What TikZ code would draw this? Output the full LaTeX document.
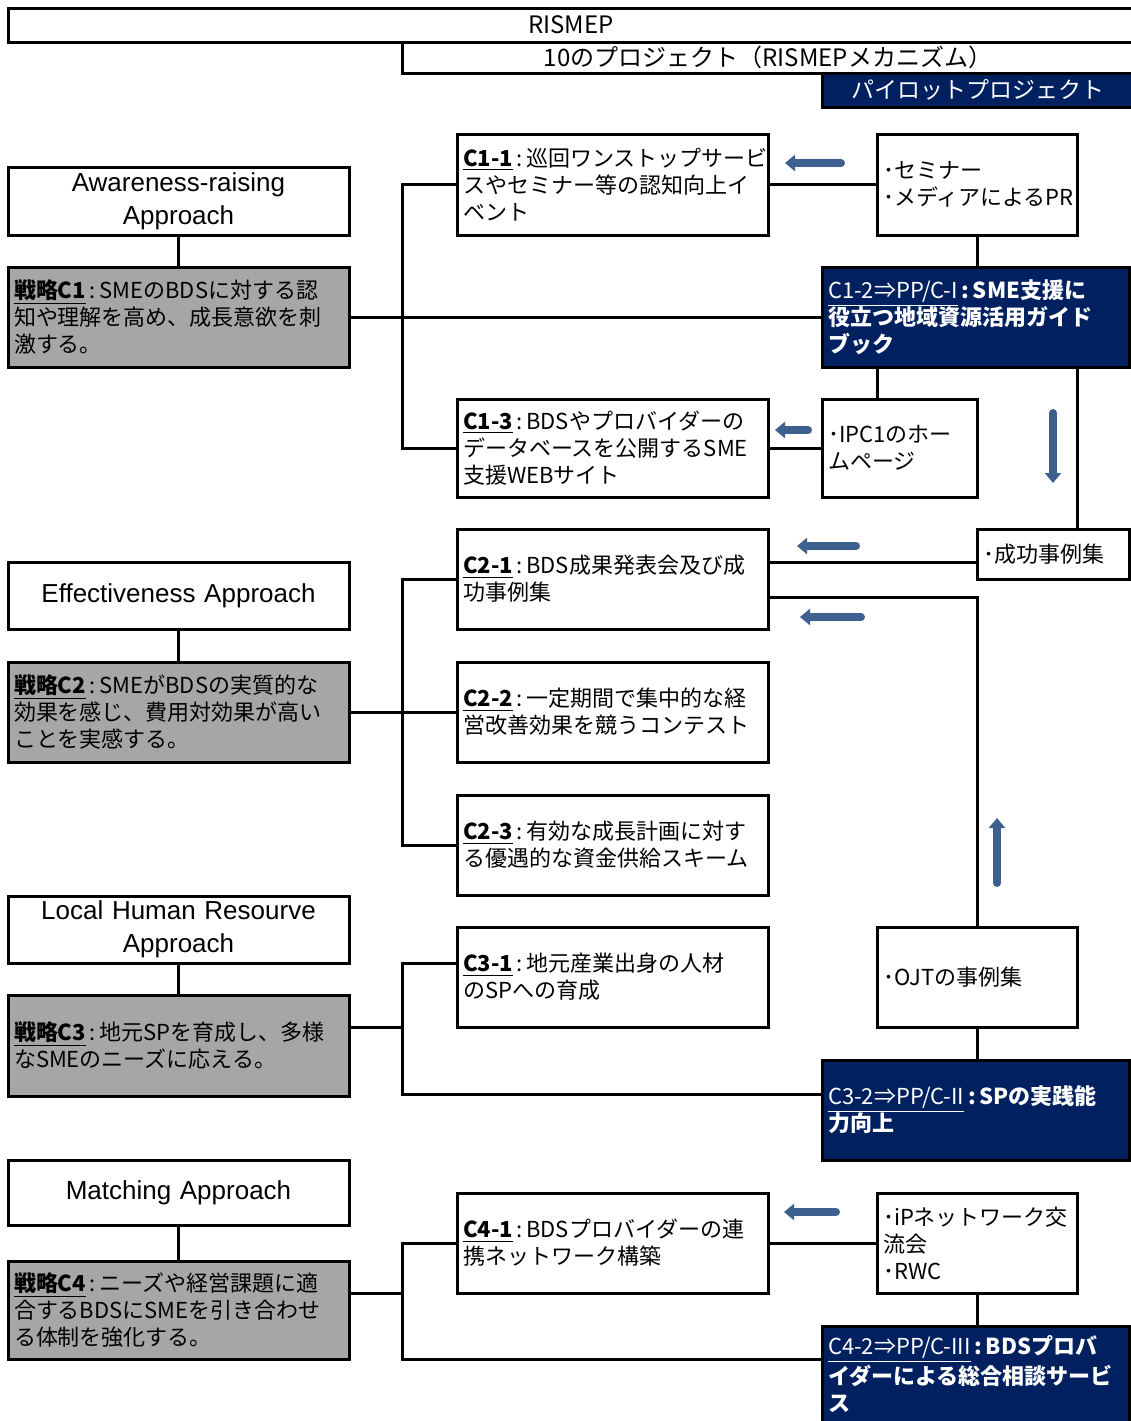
\documentclass[tikz,border=0pt]{standalone}
\usepackage{fontspec}
\setmainfont{Noto Sans CJK JP}
\newfontfamily\latinfont{Liberation Sans}
\usetikzlibrary{arrows.meta}
\definecolor{navy}{RGB}{0,32,96}
\definecolor{boxgray}{RGB}{166,166,166}
\definecolor{arrowblue}{RGB}{62,96,142}

% \panel[style]{name}{x1}{y1}{x2}{y2}{text}: box given by its corners
\newcommand\panel[7][]{%
  \pgfmathsetmacro\pcx{(#3+#5)/2}%
  \pgfmathsetmacro\pcy{(#4+#6)/2}%
  \pgfmathsetmacro\pw{(#5-#3)*0.5}%
  \pgfmathsetmacro\ph{(#6-#4)*0.5}%
  \pgfmathsetmacro\ptw{(#5-#3)*0.5-6}%
  \node[plainbox,#1,minimum width=\pw pt,minimum height=\ph pt,text width=\ptw pt] (#2) at (\pcx,\pcy) {#7};}
\newcommand\lbl[1]{\underline{\textbf{#1}}\,:\,}
\newcommand\plbl[1]{\underline{\mdseries #1}\,:\,}

\begin{document}
\begin{tikzpicture}[x=0.5pt,y=-0.5pt,
  plainbox/.style={draw=black,line width=1.5pt,fill=white,inner sep=0pt,align=left,
    font=\fontsize{11}{13.5}\selectfont},
  banner/.style={align=center,font=\fontsize{12}{14}\selectfont},
  approach/.style={align=center,font=\latinfont\fontsize{13}{16.5}\selectfont},
  strategy/.style={fill=boxgray},
  pilot/.style={fill=navy,text=white,font=\fontsize{11}{13.5}\selectfont\bfseries},
  wire/.style={line width=1.5pt},
  blockarrow/.style={draw=arrowblue,line width=4pt,line cap=round,
    -{Triangle[width=8pt,length=5pt]}}]
\useasboundingbox (0,0) rectangle (1131,1421);

% header bands
\panel[banner]{rismep}{8}{8}{1134}{42}{RISMEP}
\panel[banner]{proj}{402}{42}{1134}{73}{10のプロジェクト（RISMEPメカニズム）}
\panel[banner,fill=navy,text=white,font=\fontsize{11.5}{14}\selectfont]{pp}{822}{73}{1134}{107}{パイロットプロジェクト}

% approaches and strategies
\panel[approach]{aw}{8}{167}{349}{235}{Awareness-raising\\Approach}
\panel[strategy]{s1}{8}{267}{349}{367}{\lbl{戦略C1}SMEのBDSに対する認\\知や理解を高め、成長意欲を刺\\激する。}
\panel[approach]{ef}{8}{562}{349}{629}{Effectiveness Approach}
\panel[strategy]{s2}{8}{662}{349}{762}{\lbl{戦略C2}SMEがBDSの実質的な\\効果を感じ、費用対効果が高い\\ことを実感する。}
\panel[approach]{lh}{8}{896}{349}{963}{Local Human Resourve\\Approach}
\panel[strategy]{s3}{8}{995}{349}{1096}{\lbl{戦略C3}地元SPを育成し、多様\\なSMEのニーズに応える。}
\panel[approach]{ma}{8}{1160}{349}{1225}{Matching Approach}
\panel[strategy]{s4}{8}{1261}{349}{1359}{\lbl{戦略C4}ニーズや経営課題に適\\合するBDSにSMEを引き合わせ\\る体制を強化する。}

% components
\panel{c11}{457}{134}{768}{235}{\lbl{C1-1}巡回ワンストップサービ\\スやセミナー等の認知向上イ\\ベント}
\panel{c13}{457}{399}{768}{497}{\lbl{C1-3}BDSやプロバイダーの\\データベースを公開するSME\\支援WEBサイト}
\panel{c21}{457}{529}{768}{629}{\lbl{C2-1}BDS成果発表会及び成\\功事例集}
\panel{c22}{457}{662}{768}{762}{\lbl{C2-2}一定期間で集中的な経\\営改善効果を競うコンテスト}
\panel{c23}{457}{795}{768}{895}{\lbl{C2-3}有効な成長計画に対す\\る優遇的な資金供給スキーム}
\panel{c31}{457}{927}{768}{1027}{\lbl{C3-1}地元産業出身の人材\\のSPへの育成}
\panel{c41}{457}{1193}{768}{1293}{\lbl{C4-1}BDSプロバイダーの連\\携ネットワーク構築}

% outputs and pilot projects
\panel{sem}{877}{134}{1077}{235}{･セミナー\\･メディアによるPR}
\panel[pilot]{c12}{822}{267}{1129}{367}{\plbl{C1-2⇒PP/C-I}SME支援に\\役立つ地域資源活用ガイド\\ブック}
\panel{ipc}{822}{399}{977}{497}{･IPC1のホー\\ムページ}
\panel{suc}{977}{529}{1129}{579}{･成功事例集}
\panel{ojt}{877}{927}{1077}{1027}{･OJTの事例集}
\panel[pilot]{c32}{822}{1060}{1129}{1160}{\plbl{C3-2⇒PP/C-II}SPの実践能\\力向上}
\panel{ipn}{877}{1193}{1077}{1293}{･iPネットワーク交\\流会\\･RWC}
\panel[pilot]{c42}{822}{1326}{1129}{1422}{\plbl{C4-2⇒PP/C-III}BDSプロバ\\イダーによる総合相談サービ\\ス}

% reference lines for the connectors
\coordinate (bus) at (402,0);
\coordinate (t1) at (877,0);
\coordinate (t2) at (1077,0);
\coordinate (h1) at (0,562);
\coordinate (h2) at (0,597);
\coordinate (h3) at (0,963);
\coordinate (h4) at (0,1094);
\coordinate (h5) at (0,1027);
\coordinate (h6) at (0,1359);
\coordinate (h7) at (0,1293);

% approach to strategy
\foreach \a/\s in {aw/s1,ef/s2,lh/s3,ma/s4}
  \draw[wire] (\a.south) -- (\s.north);

% strategy C1
\draw[wire] (s1.east) -- (c12.west);
\draw[wire] (c11.west) -- (c11.west -| bus) |- (c13.west);
\draw[wire] (c11.east) -- (sem.west);
\draw[wire] (sem.south) -- (sem.south |- c12.north);
\draw[wire] (c12.south -| t1) -- (ipc.north -| t1);
\draw[wire] (ipc.west) -- (c13.east);
\draw[wire] (c12.south -| t2) -- (suc.north -| t2);
\draw[wire] (suc.west |- h1) -- (c21.east |- h1);
\draw[wire] (c21.east |- h2) -| (ojt.north);
\draw[wire] (ojt.south) -- (ojt.south |- c32.north);

% strategy C2
\draw[wire] (c21.west) -- (c21.west -| bus) |- (c23.west);
\draw[wire] (s2.east) -- (c22.west);

% strategy C3
\draw[wire] (c31.west |- h3) -- (bus |- h3) -- (bus |- h4) -- (c32.west |- h4);
\draw[wire] (s3.east |- h5) -- (bus |- h5);

% strategy C4
\draw[wire] (c41.west) -- (c41.west -| bus) |- (c42.west |- h6);
\draw[wire] (s4.east |- h7) -- (bus |- h7);
\draw[wire] (c41.east) -- (ipn.west);
\draw[wire] (ipn.south) -- (ipn.south |- c42.north);

% flow arrows
\draw[blockarrow] (841,163) -- (785,163);
\draw[blockarrow] (808,430) -- (775,430);
\draw[blockarrow] (1053,413) -- (1053,483);
\draw[blockarrow] (856,546) -- (797,546);
\draw[blockarrow] (861,617) -- (800,617);
\draw[blockarrow] (997,883) -- (997,818);
\draw[blockarrow] (836,1212) -- (784,1212);
\end{tikzpicture}
\end{document}
